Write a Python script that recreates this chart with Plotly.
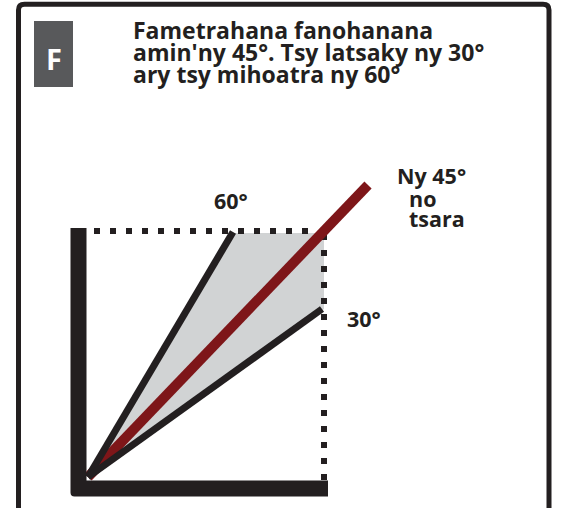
import plotly.graph_objects as go

# ---- diagram data (pixel-space units, y grows downward) ----
vertex = [88, 477]
ray_names = ["60°", "45°", "30°"]
ray_end_x = [233, 368, 322]
ray_end_y = [232, 185, 309]
ray_colors = ["#231f20", "#7e1619", "#231f20"]
ray_widths = [7, 10, 7]

box_left_x = 78.5
box_top_y = 228
box_right_x = 324
box_bottom_y = 488.5
dot_row_y = 231

title_lines = ["Fametrahana fanohanana", "amin'ny 45°. Tsy latsaky ny 30°", "ary tsy mihoatra ny 60°"]
title_baselines = [37, 59, 81]
label_texts = ["60°", "Ny 45°", "no", "tsara", "30°"]
label_x = [231, 395, 407, 407, 345]
label_y = [207, 182, 205, 225, 325]
label_anchor = ["center", "left", "left", "left", "left"]

INK = "#231f20"
FONT = "Open Sans"
TITLE_SIZE = 23
LABEL_SIZE = 21.5

fig = go.Figure()

# gray acceptable zone between 30° and 60° rays
fig.add_trace(go.Scatter(
    x=[vertex[0], ray_end_x[0], box_right_x, box_right_x, vertex[0]],
    y=[vertex[1], dot_row_y + 2, dot_row_y + 2, ray_end_y[2], vertex[1]],
    fill="toself", fillcolor="#d1d3d4", line=dict(width=0), mode="lines",
    hoverinfo="skip", showlegend=False))

# dotted guide lines
fig.add_trace(go.Scatter(
    x=[94, 312], y=[dot_row_y, dot_row_y], mode="lines",
    line=dict(color=INK, width=6, dash="6px,10px"), hoverinfo="skip", showlegend=False))
fig.add_trace(go.Scatter(
    x=[box_right_x, box_right_x], y=[234, box_bottom_y], mode="lines",
    line=dict(color=INK, width=6, dash="6px,10px"), hoverinfo="skip", showlegend=False))

# rays: red (45°) first, then black 60° and 30°
for i in [1, 0, 2]:
    fig.add_trace(go.Scatter(
        x=[vertex[0], ray_end_x[i]], y=[vertex[1], ray_end_y[i]], mode="lines",
        line=dict(color=ray_colors[i], width=ray_widths[i]),
        name=ray_names[i], hoverinfo="skip", showlegend=False))

shapes = []
# L-shaped base (thick)
shapes.append(dict(
    type="path", xref="x", yref="y",
    path=(f"M {box_left_x-8},{box_top_y} L {box_left_x+8},{box_top_y} "
          f"L {box_left_x+8},{box_bottom_y-8} L 328,{box_bottom_y-8} L 328,{box_bottom_y+8} "
          f"L {box_left_x-4},{box_bottom_y+8} Q {box_left_x-8},{box_bottom_y+8} {box_left_x-8},{box_bottom_y+4} Z"),
    fillcolor=INK, line=dict(width=0), layer="above"))
# outer frame
shapes.append(dict(
    type="path", xref="x", yref="y",
    path="M 18.5,530 L 18.5,10 Q 18.5,4.2 24.5,4.2 L 543,4.2 Q 549,4.2 549,10 L 549,530",
    line=dict(color=INK, width=5), layer="above"))
# F box
shapes.append(dict(type="rect", xref="x", yref="y", x0=34, x1=73, y0=21, y1=87,
                   fillcolor="#58595b", line=dict(width=0), layer="below"))

annotations = []
annotations.append(dict(x=53.5, y=58, xref="x", yref="y", text="<b>F</b>", showarrow=False,
                        font=dict(family=FONT, size=29, color="white"),
                        xanchor="center", yanchor="middle"))
for t, b in zip(title_lines, title_baselines):
    annotations.append(dict(x=131, y=b - 0.32 * TITLE_SIZE, xref="x", yref="y", text=f"<b>{t}</b>",
                            showarrow=False, font=dict(family=FONT, size=TITLE_SIZE, color=INK),
                            xanchor="left", yanchor="middle"))
for t, x, y, a in zip(label_texts, label_x, label_y, label_anchor):
    annotations.append(dict(x=x, y=y - 0.32 * LABEL_SIZE, xref="x", yref="y", text=f"<b>{t}</b>",
                            showarrow=False, font=dict(family=FONT, size=LABEL_SIZE, color=INK),
                            xanchor=a, yanchor="middle"))

fig.update_layout(
    width=566, height=508, autosize=False,
    margin=dict(l=0, r=0, t=0, b=0, pad=0),
    paper_bgcolor="white", plot_bgcolor="white",
    xaxis=dict(range=[0, 566], visible=False, fixedrange=True),
    yaxis=dict(range=[508, 0], visible=False, fixedrange=True),
    shapes=shapes, annotations=annotations, showlegend=False)

fig.write_html("out.html", config={"displayModeBar": False},
               post_script="document.body.style.margin='0px';document.body.style.overflow='hidden';")
